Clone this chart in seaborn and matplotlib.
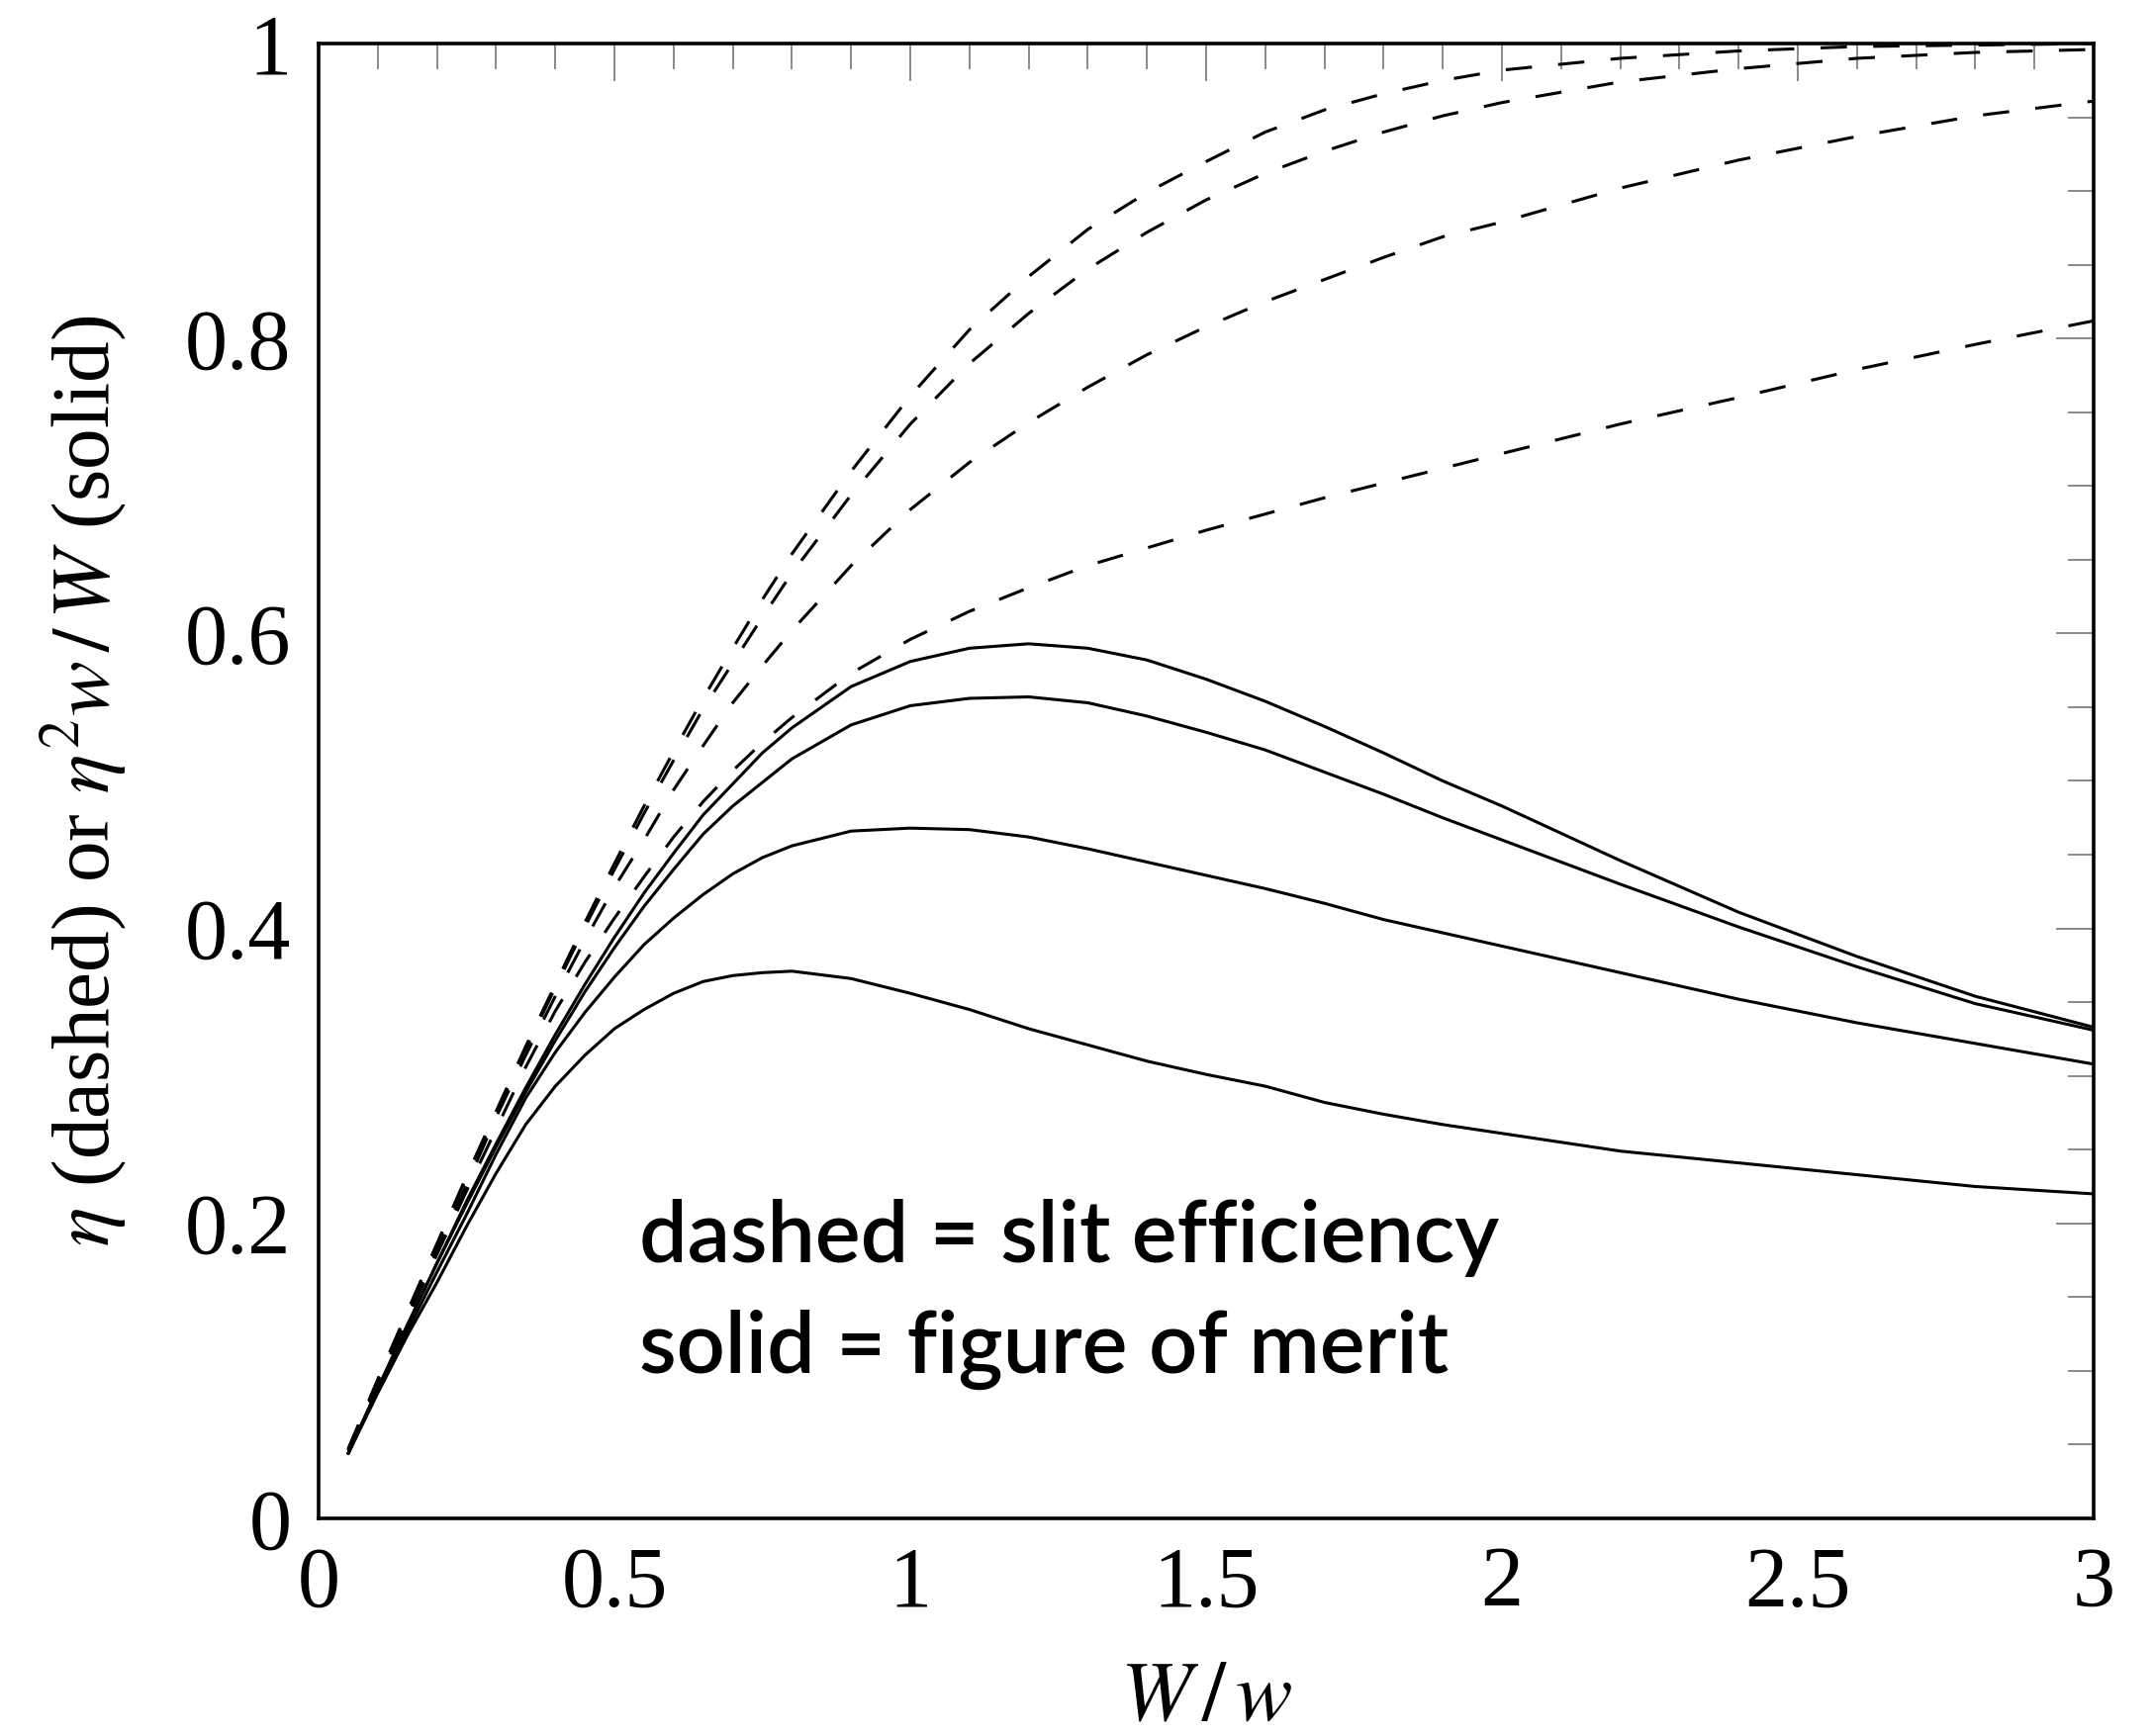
import numpy as np
import pandas as pd
import matplotlib
matplotlib.use("Agg")
import matplotlib.pyplot as plt
from matplotlib.ticker import MultipleLocator, FixedLocator, FixedFormatter
import seaborn as sns

# W/w sample points
ratio = [0.05, 0.1, 0.15, 0.2, 0.25, 0.3, 0.35, 0.4, 0.45, 0.5, 0.55, 0.6, 0.65,
         0.7, 0.75, 0.8, 0.9, 1.0, 1.1, 1.2, 1.3, 1.4, 1.5, 1.6, 1.7, 1.8, 1.9,
         2.0, 2.2, 2.4, 2.6, 2.8, 3.0]

# slit efficiency (dashed)
eff_1 = [0.047, 0.094, 0.140, 0.186, 0.232, 0.276, 0.320, 0.362, 0.404, 0.444, 0.483,
         0.520, 0.556, 0.590, 0.623, 0.654, 0.710, 0.761, 0.806, 0.842, 0.874, 0.899,
         0.920, 0.940, 0.955, 0.966, 0.975, 0.982, 0.990, 0.995, 0.998, 0.999, 1.000]
eff_2 = [0.047, 0.094, 0.140, 0.186, 0.231, 0.275, 0.318, 0.360, 0.401, 0.440, 0.478,
         0.514, 0.549, 0.580, 0.611, 0.641, 0.694, 0.742, 0.783, 0.817, 0.847, 0.872,
         0.894, 0.912, 0.927, 0.940, 0.951, 0.960, 0.974, 0.983, 0.990, 0.994, 0.996]
eff_3 = [0.046, 0.092, 0.137, 0.182, 0.226, 0.272, 0.314, 0.354, 0.392, 0.428, 0.460,
         0.494, 0.524, 0.553, 0.578, 0.602, 0.646, 0.684, 0.716, 0.743, 0.767, 0.789,
         0.808, 0.825, 0.840, 0.855, 0.869, 0.879, 0.902, 0.921, 0.937, 0.951, 0.961]
eff_4 = [0.046, 0.091, 0.135, 0.179, 0.222, 0.264, 0.306, 0.344, 0.377, 0.407, 0.435,
         0.462, 0.486, 0.507, 0.526, 0.543, 0.573, 0.596, 0.615, 0.631, 0.646, 0.658,
         0.670, 0.681, 0.692, 0.702, 0.712, 0.722, 0.742, 0.760, 0.779, 0.796, 0.812]

# figure of merit eta^2 w/W (solid)
fom_1 = [0.044, 0.088, 0.131, 0.173, 0.215, 0.254, 0.292, 0.328, 0.362, 0.394, 0.424,
         0.451, 0.477, 0.498, 0.519, 0.536, 0.564, 0.581, 0.590, 0.593, 0.590, 0.582,
         0.569, 0.554, 0.537, 0.519, 0.500, 0.483, 0.446, 0.411, 0.381, 0.354, 0.333]
fom_2 = [0.044, 0.088, 0.131, 0.173, 0.213, 0.252, 0.289, 0.324, 0.357, 0.387, 0.415,
         0.440, 0.464, 0.483, 0.499, 0.515, 0.538, 0.551, 0.556, 0.557, 0.553, 0.544,
         0.533, 0.521, 0.506, 0.491, 0.475, 0.460, 0.430, 0.401, 0.374, 0.349, 0.331]
fom_3 = [0.044, 0.086, 0.127, 0.167, 0.206, 0.247, 0.285, 0.316, 0.343, 0.367, 0.389,
         0.407, 0.423, 0.437, 0.448, 0.456, 0.466, 0.468, 0.467, 0.462, 0.454, 0.445,
         0.436, 0.427, 0.417, 0.406, 0.397, 0.388, 0.370, 0.352, 0.336, 0.322, 0.308]
fom_4 = [0.044, 0.085, 0.124, 0.160, 0.198, 0.234, 0.267, 0.293, 0.314, 0.332, 0.345,
         0.356, 0.364, 0.368, 0.370, 0.371, 0.366, 0.356, 0.345, 0.332, 0.321, 0.310,
         0.301, 0.293, 0.282, 0.274, 0.267, 0.261, 0.249, 0.241, 0.233, 0.225, 0.220]

x_ticks = [0, 0.5, 1, 1.5, 2, 2.5, 3]
x_tick_labels = ["0", "0.5", "1", "1.5", "2", "2.5", "3"]
y_ticks = [0, 0.2, 0.4, 0.6, 0.8, 1]
y_tick_labels = ["0", "0.2", "0.4", "0.6", "0.8", "1"]

# long-form table for seaborn
rows = []
for name, kind, vals in [("e1", "dashed", eff_1), ("e2", "dashed", eff_2),
                         ("e3", "dashed", eff_3), ("e4", "dashed", eff_4),
                         ("f1", "solid", fom_1), ("f2", "solid", fom_2),
                         ("f3", "solid", fom_3), ("f4", "solid", fom_4)]:
    for xv, yv in zip(ratio, vals):
        rows.append({"ratio": xv, "value": yv, "curve": name, "kind": kind})
df = pd.DataFrame(rows)

sns.set_theme(style="white")
plt.rcParams["font.family"] = ["Liberation Serif", "DejaVu Serif"]
plt.rcParams["mathtext.fontset"] = "stix"
plt.rcParams["text.color"] = "black"
plt.rcParams["axes.labelcolor"] = "black"

fig = plt.figure(figsize=(10.88, 8.775), dpi=200)
ax = fig.add_axes([0.148, 0.1254, 0.8244, 0.8495])

sns.lineplot(data=df, x="ratio", y="value", style="kind", units="curve",
             estimator=None, sort=False, dashes={"dashed": (8.7, 8.7), "solid": ""},
             color="black", lw=1.1, legend=False, ax=ax)

ax.set_xlim(0, 3)
ax.set_ylim(0, 1)

ax.xaxis.set_major_locator(FixedLocator(x_ticks))
ax.xaxis.set_major_formatter(FixedFormatter(x_tick_labels))
ax.xaxis.set_minor_locator(MultipleLocator(0.1))
ax.yaxis.set_major_locator(FixedLocator(y_ticks))
ax.yaxis.set_major_formatter(FixedFormatter(y_tick_labels))
ax.yaxis.set_minor_locator(MultipleLocator(0.05))

ax.tick_params(which="both", direction="in", top=True, right=True,
               color="#8a8a8a", width=0.7, labelsize=31, labelcolor="black")
ax.tick_params(which="major", length=13.8, pad=10)
ax.tick_params(which="minor", length=9.4)

for sp in ax.spines.values():
    sp.set_color("black")
    sp.set_linewidth(1.3)

ax.set_xlabel(r"$W\,/\,w$", fontsize=31, labelpad=13, color="black")
ax.set_ylabel(r"$\eta$ (dashed) or $\eta^2 w\,/\,W$ (solid)", fontsize=30,
              labelpad=20, color="black")

ax.text(0.542, 0.1737, "dashed = slit efficiency", fontsize=31, family="Lato",
        fontweight="semibold", va="baseline", ha="left", color="black")
ax.text(0.542, 0.0986, "solid = figure of merit", fontsize=31, family="Lato",
        fontweight="semibold", va="baseline", ha="left", color="black")

fig.savefig("out.png", dpi=200)
